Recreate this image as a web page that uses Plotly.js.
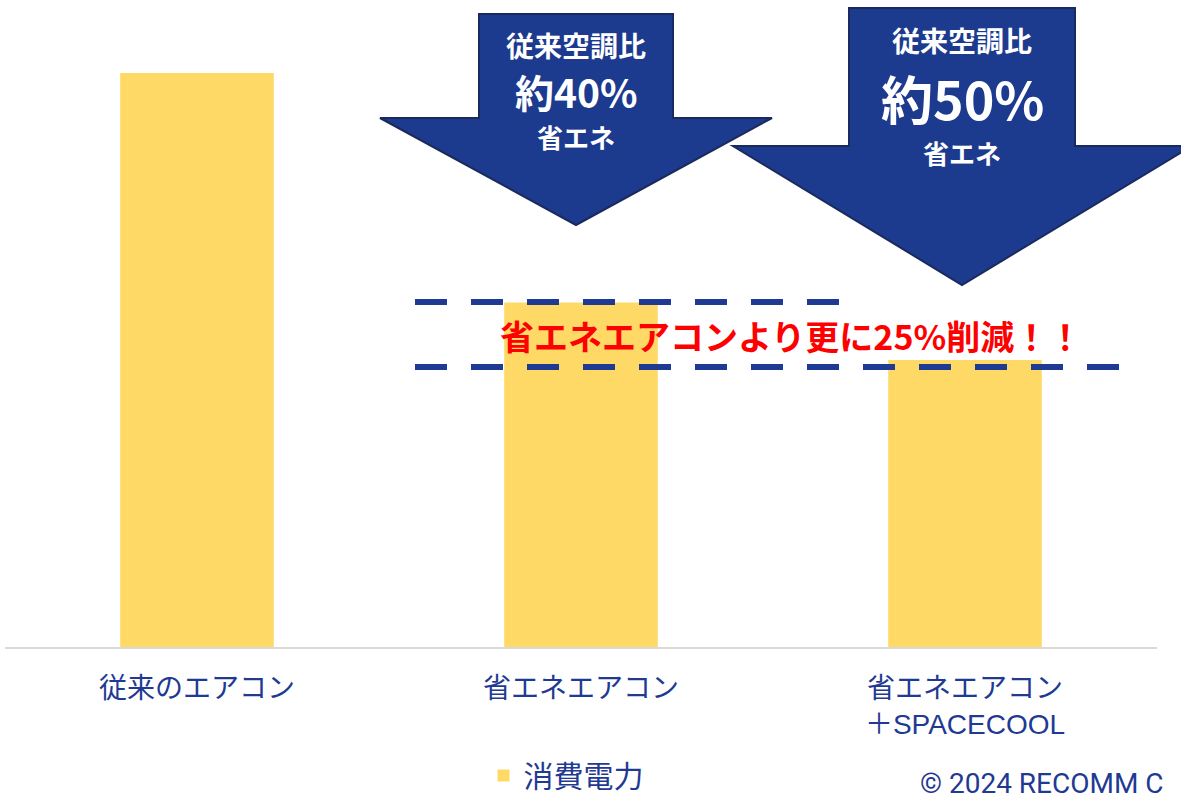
<!DOCTYPE html>
<html><head><meta charset="utf-8">
<script src="https://cdn.plot.ly/plotly-3.0.1.min.js"></script>
<style>html,body{margin:0;padding:0;background:#fff;}#chart{width:1181px;height:803px;}</style>
</head><body><div id="chart"></div>
<script>
const categories = ['従来のエアコン', '省エネエアコン', '省エネエアコン<br>＋SPACECOOL'];
const powerValues = [100, 60, 50];
const seriesName = '消費電力';
const arrowTexts = [['従来空調比', '約40%', '省エネ'], ['従来空調比', '約50%', '省エネ']];
const calloutText = '省エネエアコンより更に25%削減！！';
const copyrightText = '© 2024 RECOMM C';

const W = 1181, H = 803, L = 5, R = 24, T = 0, B = 156;
const PW = W - L - R, PH = H - T - B;
const px = x => (x - L) / PW;
const py = y => (PH + T - y) / PH;
function path(pts){ return 'M' + pts.map(p => px(p[0]).toFixed(5) + ',' + py(p[1]).toFixed(5)).join(' L') + ' Z'; }

const navy = '#1C3A8E', navyText = '#1F3A93', outline = '#1B2A5C';
const font = '"Noto Sans CJK JP", "Noto Sans", sans-serif';
const labelFont = '"Liberation Sans", "Noto Sans CJK JP", sans-serif';

const arrow1 = [[479,14],[673,14],[673,118],[772,118],[576,225],[380,118],[479,118]];
const arrow2 = [[849,8],[1075,8],[1075,146],[1192,146],[962,285],[733,146],[849,146]];

const shapes = [
  {type:'path', xref:'paper', yref:'paper', path: path(arrow1), fillcolor: navy, line:{color: outline, width: 2}},
  {type:'path', xref:'paper', yref:'paper', path: path(arrow2), fillcolor: navy, line:{color: outline, width: 2}},
  {type:'line', xref:'paper', yref:'paper', x0: px(415), x1: px(842), y0: py(302), y1: py(302), line:{color: navyText, width: 6, dash: '32px,24px'}},
  {type:'line', xref:'paper', yref:'paper', x0: px(415), x1: px(1122), y0: py(367), y1: py(367), line:{color: navyText, width: 6, dash: '32px,24px'}}
];

function ann(x, y, text, size, color, extra, fam){
  return Object.assign({xref:'paper', yref:'paper', x: px(x), y: py(y), text: text, showarrow:false,
    xanchor:'center', yanchor:'middle', font:{family: fam || font, size: size, color: color}}, extra || {});
}
const annotations = [
  ann(576, 45, '<b>' + arrowTexts[0][0] + '</b>', 28, '#fff'),
  ann(576, 91, '<b>' + arrowTexts[0][1] + '</b>', 39, '#fff'),
  ann(576, 137, '<b>' + arrowTexts[0][2] + '</b>', 26, '#fff'),
  ann(962, 40, '<b>' + arrowTexts[1][0] + '</b>', 28, '#fff'),
  ann(962, 97, '<b>' + arrowTexts[1][1] + '</b>', 52, '#fff'),
  ann(962, 152, '<b>' + arrowTexts[1][2] + '</b>', 26, '#fff'),
  ann(791, 335, '<b>' + calloutText + '</b>', 34, '#FF0000'),
  ann(918, 802, copyrightText, 28, navyText, {xanchor:'left', yanchor:'bottom'}, 'Roboto, "Liberation Sans", sans-serif')
];
annotations[7].y = 0 - (H - T - PH - 1) / PH; // bottom edge of the page
annotations[7].yanchor = 'bottom';

const data = [{
  type:'bar', x: categories, y: powerValues, name: seriesName,
  marker:{color:'#FFD966'}, showlegend: true, hoverinfo:'none'
}];

const layout = {
  width: W, height: H,
  margin:{l:L, r:R, t:T, b:B, autoexpand:false},
  paper_bgcolor:'#fff', plot_bgcolor:'#fff',
  bargap: 0.6,
  font:{family: font, color: navyText},
  xaxis:{type:'category', showline:true, linecolor:'#D9D9D9', linewidth:2, ticks:'', showgrid:false,
    automargin:false, ticklabelstandoff: 15,
    tickfont:{size:28, color: navyText, family: labelFont}},
  yaxis:{range:[0, PH/5.74], visible:false, showgrid:false, zeroline:false},
  showlegend:true,
  legend:{orientation:'h', x: px(566), xanchor:'center', yref:'container', y: 0.002, yanchor:'bottom',
    font:{size:30, color: navyText, family: font}, itemwidth: 30},
  shapes: shapes,
  annotations: annotations
};
Plotly.newPlot('chart', data, layout, {displayModeBar:false, staticPlot:true});
</script></body></html>
